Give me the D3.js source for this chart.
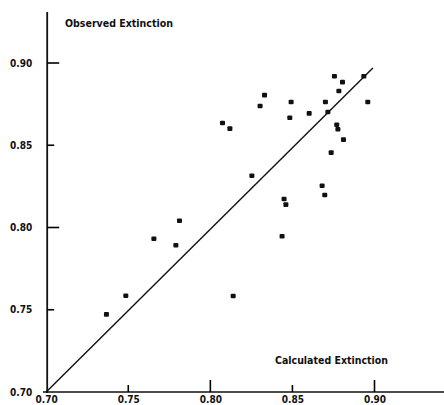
<!DOCTYPE html>
<html>
<head>
<meta charset="utf-8">
<script src="https://cdn.jsdelivr.net/npm/d3@7"></script>
<style>
  body { margin: 0; background: #fff; }
  svg { display: block; }
  .lbl { font-family: "DejaVu Sans Condensed", "DejaVu Sans", sans-serif; font-weight: bold; font-size: 10px; fill: #111; }
</style>
</head>
<body>
<div id="chart"></div>
<script>
// calculated extinction (x) vs observed extinction (y)
var calculated = [0.8756, 0.8805, 0.8783, 0.8935, 0.8959, 0.8701, 0.8716, 0.8602, 0.8492, 0.8484,
                  0.8330, 0.8303, 0.8074, 0.8119, 0.8770, 0.8777, 0.8811, 0.8736, 0.8253, 0.8681,
                  0.8697, 0.8449, 0.8460, 0.8437, 0.8139, 0.7812, 0.7656, 0.7790, 0.7485, 0.7367]
var observed   = [0.8919, 0.8884, 0.8830, 0.8919, 0.8763, 0.8763, 0.8702, 0.8694, 0.8763, 0.8667,
                  0.8805, 0.8739, 0.8635, 0.8601, 0.8625, 0.8597, 0.8534, 0.8455, 0.8315, 0.8254,
                  0.8198, 0.8173, 0.8139, 0.7947, 0.7584, 0.8041, 0.7932, 0.7892, 0.7585, 0.7472]
// the fitted line, two end points
var lineX = [0.70, 0.899]
var lineY = [0.70, 0.897]
var xTicks = [0.70, 0.75, 0.80, 0.85, 0.90]
var yTicks = [0.70, 0.75, 0.80, 0.85, 0.90]
var majorTicks = [0.80, 0.90]
var minorTicks = [0.75, 0.85]

var width = 444, height = 405

var x = d3.scaleLinear().domain([0.70, 0.90]).range([46.2, 374.5])
var y = d3.scaleLinear().domain([0.70, 0.90]).range([392, 63])

var svg = d3.select("#chart").append("svg")
    .attr("width", width)
    .attr("height", height)

// axis lines
svg.append("line")
    .attr("x1", x(0.70) + 1).attr("x2", x(0.70) + 1)
    .attr("y1", 12).attr("y2", y(0.70) + 1)
    .attr("stroke", "#111").attr("stroke-width", 1.8)

svg.append("line")
    .attr("x1", 43).attr("x2", width)
    .attr("y1", y(0.70)).attr("y2", y(0.70))
    .attr("stroke", "#111").attr("stroke-width", 1.6)

// tick labels through the axes, tick marks drawn inward below
var yAxis = svg.append("g")
    .attr("transform", "translate(" + x(0.70) + ",0)")
    .call(d3.axisLeft(y).tickValues(yTicks).tickSize(0).tickPadding(14).tickFormat(d3.format(".2f")))
yAxis.select(".domain").remove()
yAxis.selectAll("text").attr("class", "lbl").attr("font-family", null).attr("font-size", null)

var xAxis = svg.append("g")
    .attr("transform", "translate(0," + y(0.70) + ")")
    .call(d3.axisBottom(x).tickValues(xTicks).tickSize(0).tickPadding(4).tickFormat(d3.format(".2f")))
xAxis.select(".domain").remove()
xAxis.selectAll("text").attr("class", "lbl").attr("font-family", null).attr("font-size", null)

function tickLen(d) { return majorTicks.indexOf(d) >= 0 ? 12 : 7 }

svg.append("g").selectAll("line")
    .data(majorTicks.concat(minorTicks))
  .enter().append("line")
    .attr("class", "ytick")
    .attr("x1", x(0.70) + 1)
    .attr("x2", function(d) { return x(0.70) + 1 + tickLen(d) })
    .attr("y1", function(d) { return y(d) })
    .attr("y2", function(d) { return y(d) })
    .attr("stroke", "#000").attr("stroke-width", 1.6)

svg.append("g").selectAll("line")
    .data(majorTicks.concat(minorTicks))
  .enter().append("line")
    .attr("class", "xtick")
    .attr("x1", function(d) { return x(d) })
    .attr("x2", function(d) { return x(d) })
    .attr("y1", y(0.70))
    .attr("y2", function(d) { return y(0.70) - tickLen(d) })
    .attr("stroke", "#000").attr("stroke-width", 1.6)

// diagonal line
var line = d3.line()
    .x(function(d) { return x(d[0]) })
    .y(function(d) { return y(d[1]) })

svg.append("path")
    .datum(d3.zip(lineX, lineY))
    .attr("d", line)
    .attr("fill", "none")
    .attr("stroke", "#111")
    .attr("stroke-width", 1.4)

// points
svg.append("g").selectAll("rect")
    .data(d3.zip(calculated, observed))
  .enter().append("rect")
    .attr("x", function(d) { return x(d[0]) - 2.5 })
    .attr("y", function(d) { return y(d[1]) - 2.3 })
    .attr("width", 5)
    .attr("height", 4.6)
    .attr("rx", 1)
    .attr("fill", "#111")

// axis titles
svg.append("text")
    .attr("class", "lbl")
    .attr("x", 65)
    .attr("y", 27)
    .attr("textLength", 108)
    .attr("lengthAdjust", "spacingAndGlyphs")
    .text("Observed Extinction")

svg.append("text")
    .attr("class", "lbl")
    .attr("x", 275)
    .attr("y", 364)
    .attr("textLength", 113)
    .attr("lengthAdjust", "spacingAndGlyphs")
    .text("Calculated Extinction")
</script>
</body>
</html>
